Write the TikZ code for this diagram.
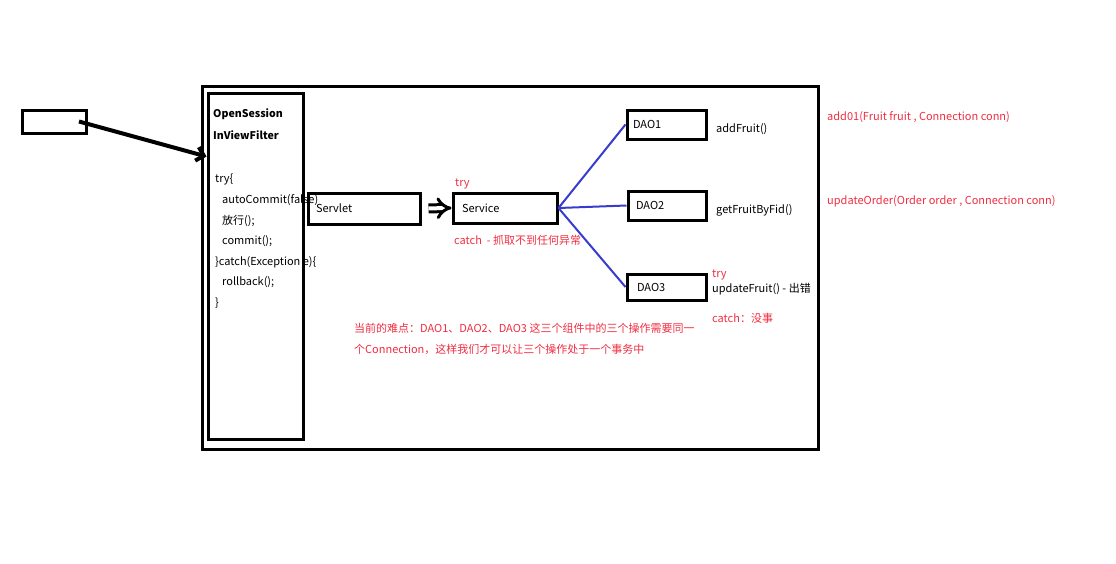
\documentclass[tikz,border=0pt]{standalone}
\usepackage{fontspec}
\setmainfont{Noto Sans CJK SC}
\definecolor{notered}{RGB}{240,45,65}
\definecolor{linkblue}{RGB}{55,60,205}
\usetikzlibrary{positioning,arrows.meta}

\begin{document}
\begin{tikzpicture}[x=1pt, y=-1pt,
    box/.style={rectangle, draw=black, line width=3pt, inner sep=0pt, font=\fontsize{11}{13}\selectfont},
    txt/.style={anchor=west, inner sep=0pt, yshift=-2pt, font=\fontsize{11}{13}\selectfont},
    boldtxt/.style={txt, font=\fontsize{10.6}{13}\selectfont\bfseries},
    note/.style={txt, text=notered},
    link/.style={draw=linkblue, line width=2pt},
    arrow/.style={line width=4pt, -{Straight Barb[length=7pt,width=14pt]}}
]
\useasboundingbox (0,0) rectangle (1116,563);

% Container
\node[box, minimum width=616pt, minimum height=363pt] (container) at (510,267.5) {};

% Client
\node[box, minimum width=64pt, minimum height=23pt] (client) at (54,121.5) {};

% Filter text
\node[boldtxt] (title1) at (213,112) {OpenSession};
\node[boldtxt] (title2) at (213,133) {InViewFilter};
\node[txt, anchor=north west, align=left, font=\fontsize{11}{20.6}\selectfont] (code) at (215,172)
  {try\{\\ \hspace*{7pt}autoCommit(false)\\ \hspace*{7pt}放行();\\ \hspace*{7pt}commit();\\
   \}catch(Exception e)\{\\ \hspace*{7pt}rollback();\\ \}};

% Filter
\node[box, minimum width=95pt, minimum height=346pt] (filter) at (255.5,266) {};

% Servlet and Service
\node[box, minimum width=112pt, minimum height=31pt, text width=96pt, align=left, inner xsep=8pt] (servlet) at (364,208.5) {Servlet};
\node[box, minimum width=104pt, minimum height=30pt, text width=86pt, align=left, inner xsep=9pt] (service) at (505,208) {Service};
\node[note] (svctry) at (455,182) {try};
\node[note] (svccatch) at (454,238) {catch \ - 抓取不到任何异常};

% DAOs
\node[box, minimum width=79pt, minimum height=29pt, text width=67pt, align=left, inner xsep=6pt] (dao1) at (666.5,124.5) {DAO1};
\node[box, minimum width=78pt, minimum height=29pt, text width=62pt, align=left, inner xsep=8pt] (dao2) at (667,205.5) {DAO2};
\node[box, minimum width=79pt, minimum height=26pt, text width=59pt, align=left, inner xsep=10pt] (dao3) at (666.5,287) {DAO3};

\node[txt] (op1) at (716,127) {addFruit()};
\node[txt] (op2) at (716,208) {getFruitByFid()};
\node[note] (op3try) at (712,273) {try};
\node[txt] (op3) at (712,287) {updateFruit() - 出错};
\node[note] (op3catch) at (712,316) {catch：没事};

% Signatures
\node[note] (sig1) at (827,115) {add01(Fruit fruit , Connection conn)};
\node[note] (sig2) at (827,199) {updateOrder(Order order , Connection conn)};

% Remark
\node[note] (remark1) at (354,326) {当前的难点：DAO1、DAO2、DAO3 这三个组件中的三个操作需要同一};
\node[note] (remark2) at (354,347) {个Connection，这样我们才可以让三个操作处于一个事务中};

% Connections
\draw[arrow] ([xshift=25pt]client.center) -- ([yshift=-65pt]filter.north west);
\draw[double, double distance=4pt, line width=3pt, -{Implies}, shorten <=7pt] (servlet.east) -- (service.west);
\draw[link] (service.east) -- (dao1.west);
\draw[link] (service.east) -- (dao2.west);
\draw[link] (service.east) -- (dao3.west);

\end{tikzpicture}
\end{document}
